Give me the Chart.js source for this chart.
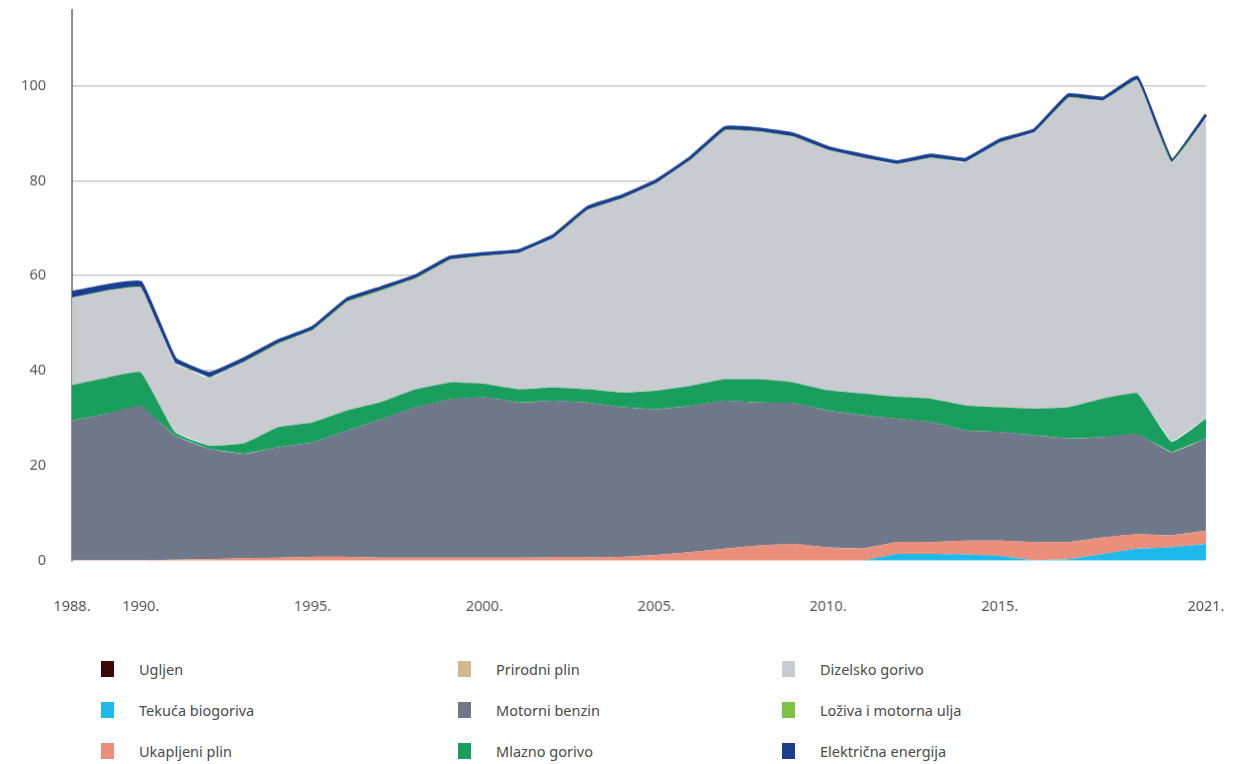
<!DOCTYPE html>
<html>
<head>
<meta charset="utf-8">
<script src="https://cdn.jsdelivr.net/npm/chart.js@4.4.1/dist/chart.umd.min.js"></script>
<style>
  html, body { margin: 0; background: #fff; font-family: 'Noto Sans', sans-serif; overflow: hidden; }
  /* canvas is a bit larger than the page area: tick padding adds overhang at top/right */
  #wrap { position: relative; width: 1252.5px; height: 654.7px; margin-top: -24.7px; }
  #legend {
    display: grid;
    grid-template-columns: 357px 324px 300px;
    grid-auto-flow: column;
    grid-template-rows: 41px 41px 41px;
    margin-left: 101px;
    margin-top: 18px;
  }
  .item { display: flex; align-items: center; font-size: 14.5px; color: #4a4a4a; }
  .box { width: 13px; height: 16px; margin-right: 25px; }
</style>
</head>
<body>
<div id="wrap"><canvas id="fuelChart"></canvas></div>
<div id="legend"></div>
<script>
const years = [];
for (let y = 1988; y <= 2021; y++) years.push(y);
const shownYears = [1988, 1990, 1995, 2000, 2005, 2010, 2015, 2021];

// values per year, 1988..2021
const ugljen =      [0,0,0,0,0,0,0,0,0,0, 0,0,0,0,0,0,0,0,0,0, 0,0,0,0,0,0,0,0,0,0, 0,0,0,0];
const biogoriva =   [0,0,0,0,0,0,0,0,0,0, 0,0,0,0,0,0,0,0,0,0, 0,0,0,0,1.4,1.4,1.3,1.0,0.1,0.3, 1.4,2.5,2.8,3.5];
const ukapljeni =   [0.1,0.1,0.1,0.2,0.3,0.5,0.6,0.8,0.8,0.6, 0.6,0.6,0.6,0.6,0.7,0.7,0.8,1.2,1.8,2.5, 3.2,3.5,2.8,2.5,2.5,2.5,2.9,3.2,3.8,3.6, 3.5,3.1,2.5,2.8];
const prirodni =    [0,0,0,0,0,0,0,0,0,0, 0,0,0,0,0,0,0,0,0,0, 0,0,0,0,0,0,0,0,0,0, 0,0,0,0];
const benzin =      [29.4,30.8,32.5,26.1,23.2,22.0,23.3,24.1,26.6,29.2, 31.7,33.4,33.8,32.7,33.0,32.6,31.5,30.7,30.8,31.2, 30.1,29.7,28.8,28.1,26.0,25.3,23.2,22.9,22.5,21.8, 21.1,21.1,17.5,19.4];
const mlazno =      [7.5,7.6,7.0,0.7,0.7,2.2,4.2,4.2,4.2,3.6, 3.8,3.5,2.8,2.8,2.8,2.8,3.1,3.9,4.2,4.5, 4.9,4.3,4.3,4.6,4.6,4.9,5.3,5.2,5.6,6.6, 8.1,8.5,2.2,4.2];
const dizel =       [18.3,18.3,17.9,14.5,14.2,17.0,17.5,19.3,22.8,23.4, 23.2,25.8,26.9,28.6,31.3,37.7,40.8,43.6,47.5,52.4, 52.1,51.7,50.5,49.6,48.9,50.7,51.2,55.7,58.1,65.2, 62.7,66.0,58.8,63.4];
const lozivaUlja =  [0.1,0.1,0.1,0.1,0.2,0.2,0.2,0.2,0.2,0.2, 0.2,0.1,0.1,0.1,0.1,0.1,0.1,0.1,0.1,0.1, 0.1,0.1,0.1,0.1,0.1,0.1,0.1,0.1,0.1,0.1, 0.1,0.1,0.1,0.1];
const elektricna =  [1.1,1.0,1.0,0.9,0.8,0.6,0.5,0.5,0.5,0.5, 0.5,0.5,0.5,0.5,0.5,0.5,0.5,0.5,0.5,0.5, 0.5,0.5,0.5,0.5,0.5,0.5,0.5,0.5,0.5,0.5, 0.5,0.5,0.5,0.5];

const series = [
    { label: 'Ugljen', data: ugljen, color: '#3b0808' },
    { label: 'Tekuća biogoriva', data: biogoriva, color: '#1db9ea' },
    { label: 'Ukapljeni plin', data: ukapljeni, color: '#ea8f7b' },
    { label: 'Prirodni plin', data: prirodni, color: '#d2b88f' },
    { label: 'Motorni benzin', data: benzin, color: '#6f7889' },
    { label: 'Mlazno gorivo', data: mlazno, color: '#199e5d' },
    { label: 'Dizelsko gorivo', data: dizel, color: '#c8cbcf' },
    { label: 'Loživa i motorna ulja', data: lozivaUlja, color: '#7cc243' },
    { label: 'Električna energija', data: elektricna, color: '#1b3f8f' }
];

const ctx = document.getElementById('fuelChart').getContext('2d');
new Chart(ctx, {
    type: 'line',
    data: {
        labels: years,
        datasets: series.map((s, i) => ({
            label: s.label,
            data: s.data,
            backgroundColor: s.color,
            borderColor: s.color,
            borderWidth: i === series.length - 1 ? 3 : 0,
            fill: 'stack',
            pointRadius: 0,
            tension: 0.1
        }))
    },
    options: {
        responsive: true,
        maintainAspectRatio: false,
        animation: false,
        layout: { autoPadding: false, padding: { left: 10, right: 33, top: 10, bottom: 0 } },
        plugins: { legend: { display: false }, tooltip: { enabled: false } },
        scales: {
            x: {
                offset: false,
                grid: { display: false },
                border: { display: false },
                afterFit(scale) { scale.height = 70; },
                ticks: {
                    autoSkip: false,
                    maxRotation: 0,
                    padding: 29,
                    color: '#555',
                    font: { family: 'Noto Sans', size: 14.5 },
                    callback(v) {
                        const yr = years[v];
                        return shownYears.includes(yr) ? yr + '.' : '';
                    }
                }
            },
            y: {
                stacked: true,
                min: 0,
                max: 116,
                afterFit(scale) { scale.width = 62; },
                afterBuildTicks(scale) { scale.ticks = scale.ticks.filter(t => t.value <= 100); },
                border: { display: true, color: '#8a8a8a', width: 2 },
                grid: {
                    drawTicks: false,
                    color: c => c.tick.value > 0 ? '#c9c9c9' : 'rgba(0,0,0,0)',
                    lineWidth: 1.5
                },
                ticks: {
                    stepSize: 20,
                    padding: 26,
                    color: '#555',
                    font: { family: 'Noto Sans', size: 14.5 }
                }
            }
        }
    }
});

document.getElementById('legend').innerHTML = series.map(s => `
    <div class="item"><span class="box" style="background:${s.color}"></span>${s.label}</div>
`).join('');
</script>
</body>
</html>
